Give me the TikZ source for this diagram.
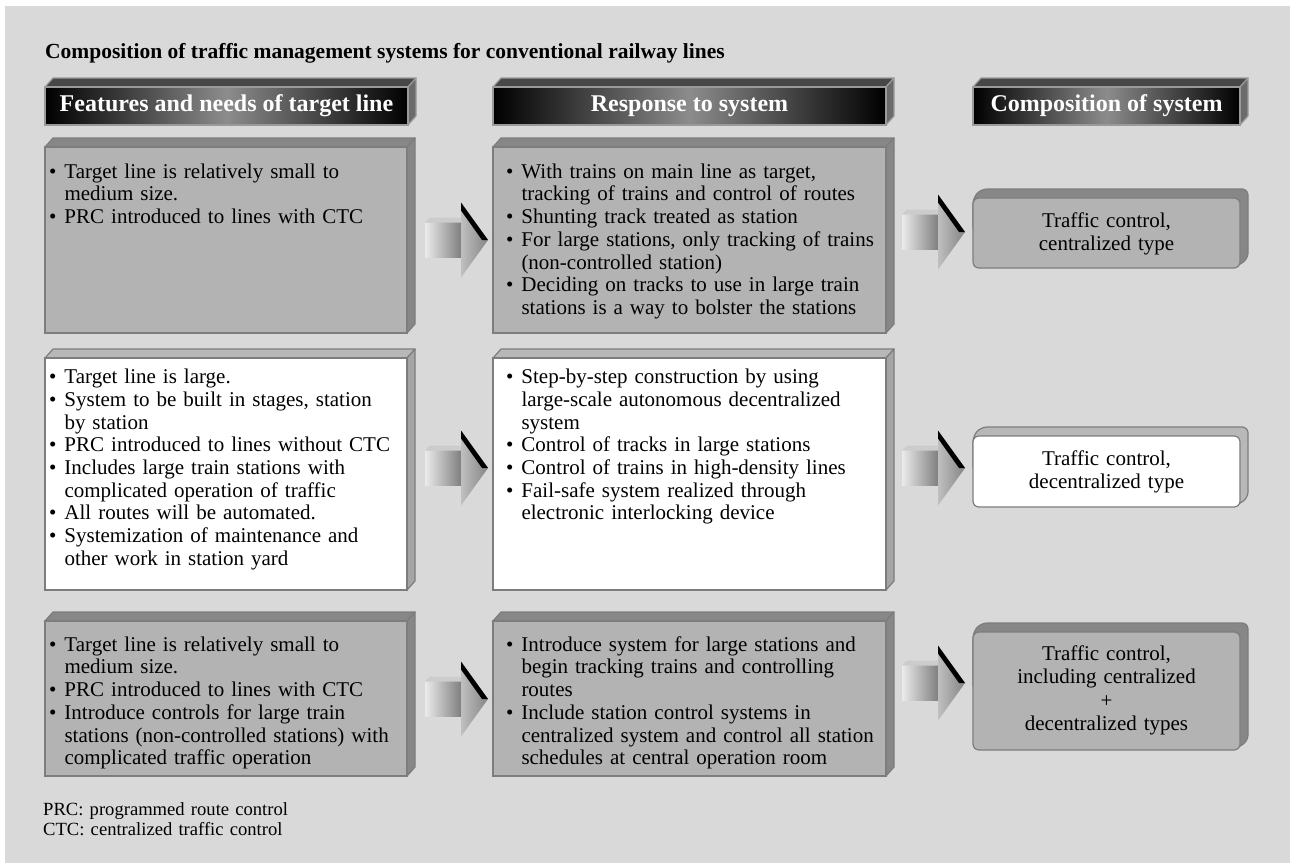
\documentclass[tikz,border=0pt]{standalone}
\usepackage{fontspec}
\setmainfont{Liberation Serif}
\usetikzlibrary{calc}
\pgfdeclarelayer{back}
\pgfdeclarelayer{mid}
\pgfsetlayers{back,mid,main}
\definecolor{bgc}{HTML}{D9D9D9}
\definecolor{faceg}{HTML}{B3B3B3}
\definecolor{bevg}{HTML}{878787}
\definecolor{edgeg}{HTML}{7D7D7D}
\definecolor{bevw}{HTML}{B8B8B8}
\definecolor{sidew}{HTML}{A5A5A5}
\definecolor{hdrmid}{HTML}{8C8C8C}
\definecolor{hdrtop}{HTML}{474747}
\definecolor{hdrside}{HTML}{6B6B6B}
\definecolor{hdredge}{HTML}{9A9A9A}
\newlength\bulw \setlength\bulw{15.5pt}
\newcommand\bul{\par\noindent\hangindent=\bulw\hangafter=1\makebox[\bulw][l]{\textbullet}\ignorespaces}
\newcommand\nl{\hfil\break}
\newcommand\st{\rule{0pt}{16pt}}
\newcommand\bev[4]{%
 \begin{pgfonlayer}{mid}
 \filldraw[fill=#2, draw=#4, line width=1.2, line join=round] (#1.north west) -- ++(8,-9) -- ([shift={(8,-9)}]#1.north east) -- (#1.north east) -- cycle;
 \filldraw[fill=#3, draw=#4, line width=1.2, line join=round] (#1.north east) -- ([shift={(8,-9)}]#1.north east) -- ([shift={(8,-9)}]#1.south east) -- (#1.south east) -- cycle;
 \end{pgfonlayer}}
\newcommand\rbev[3]{%
 \begin{pgfonlayer}{mid}
 \filldraw[fill=#2, draw=#3, line width=1.2, rounded corners=6] (#1.west) -- (#1.north west) -- ++(8,-9) -- ([shift={(8,-9)}]#1.north east) -- ([shift={(8,-9)}]#1.south east) -- ([xshift=-6pt]#1.south east) -- (#1.center) -- cycle;
 \end{pgfonlayer}}
\begin{document}
\begin{tikzpicture}[x=1pt,y=-1pt,
  hdr/.style={anchor=north west, minimum height=38, inner sep=0, outer sep=0,
    text=white, font=\bfseries\fontsize{24}{26}\selectfont,
    left color=black, right color=black, middle color=hdrmid, draw=hdredge, line width=1.5},
  gface/.style={anchor=north west, inner sep=0, outer sep=0, fill=faceg, draw=edgeg, line width=1.2},
  wface/.style={anchor=north west, inner sep=0, outer sep=0, fill=white, draw=edgeg, line width=1.2},
  rgface/.style={gface, rounded corners=6},
  rwface/.style={wface, rounded corners=6},
  txt/.style={anchor=north west, inner sep=0, outer sep=0, font=\fontsize{21}{22.7}\selectfont},
  rtxt/.style={anchor=north, inner sep=0, outer sep=0, text width=260pt, align=center, font=\fontsize{21}{23.5}\selectfont},
  blkarrow/.pic={
    \shade[left color=white!92!black, right color=black!50] (-63,-17.5) rectangle (-27,17.5);
    \fill[black!20] (-63,-17.5) -- (-58,-22.5) -- (-27,-22.5) -- (-27,-17.5) -- cycle;
    \shade[left color=black!25, right color=black!48] (-27,-37.5) -- (0,0) -- (-27,37.5) -- cycle;
    \fill[black] (-27,-37.5) -- (0,0) -- (-6,0) -- (-27,-29.5) -- cycle;
  }]
\useasboundingbox (0,0) rectangle (1290,863);
\begin{pgfonlayer}{back}
\fill[bgc] (5,6) rectangle (1290,863);
\end{pgfonlayer}

\node[anchor=base west, inner sep=0, font=\bfseries\fontsize{21.5}{24}\selectfont] (title) at (45,58)
  {Composition of traffic management systems for conventional railway lines};

% headers
\node[hdr, minimum width=363] (H1) at (45,87) {Features and needs of target line};
\node[hdr, minimum width=393] (H2) at (493,87) {Response to system};
\node[hdr, minimum width=267] (H3) at (973,87) {Composition of system};
\bev{H1}{hdrtop}{hdrside}{hdredge}
\bev{H2}{hdrtop}{hdrside}{hdredge}
\bev{H3}{hdrtop}{hdrside}{hdredge}

% row 1
\node[gface, minimum width=362, minimum height=186] (L1) at (45,147) {};
\node[gface, minimum width=393, minimum height=186] (M1) at (493,147) {};
\node[rgface, minimum width=267, minimum height=70] (R1) at (973,198) {};
\bev{L1}{bevg}{bevg}{edgeg}
\bev{M1}{bevg}{bevg}{edgeg}
\rbev{R1}{bevg}{edgeg}
% row 2
\node[wface, minimum width=362, minimum height=232] (L2) at (45,358) {};
\node[wface, minimum width=393, minimum height=232] (M2) at (493,358) {};
\node[rwface, minimum width=267, minimum height=71] (R2) at (973,436) {};
\bev{L2}{bevw}{sidew}{edgeg}
\bev{M2}{bevw}{sidew}{edgeg}
\rbev{R2}{bevw}{edgeg}
% row 3
\node[gface, minimum width=362, minimum height=155] (L3) at (45,621) {};
\node[gface, minimum width=393, minimum height=155] (M3) at (493,621) {};
\node[rgface, minimum width=267, minimum height=118] (R3) at (973,632) {};
\bev{L3}{bevg}{bevg}{edgeg}
\bev{M3}{bevg}{bevg}{edgeg}
\rbev{R3}{bevg}{edgeg}

% texts
\node[txt, text width=355pt] (tL1) at (49,155.5) {\bul\st Target line is relatively small to\nl medium size.\bul PRC introduced to lines with CTC\par};
\node[txt, text width=375pt] (tM1) at (506,155.5) {\bul\st With trains on main line as target,\nl tracking of trains and control of routes\bul Shunting track treated as station\bul For large stations, only tracking of trains\nl (non-controlled station)\bul Deciding on tracks to use in large train\nl stations is a way to bolster the stations\par};
\node[txt, text width=355pt] (tL2) at (49,361) {\bul\st Target line is large.\bul System to be built in stages, station\nl by station\bul PRC introduced to lines without CTC\bul Includes large train stations with\nl complicated operation of traffic\bul All routes will be automated.\bul Systemization of maintenance and\nl other work in station yard\par};
\node[txt, text width=375pt] (tM2) at (506,361) {\bul\st Step-by-step construction by using\nl large-scale autonomous decentralized\nl system\bul Control of tracks in large stations\bul Control of trains in high-density lines\bul Fail-safe system realized through\nl electronic interlocking device\par};
\node[txt, text width=355pt] (tL3) at (49,628.5) {\bul\st Target line is relatively small to\nl medium size.\bul PRC introduced to lines with CTC\bul Introduce controls for large train\nl stations (non-controlled stations) with\nl complicated traffic operation\par};
\node[txt, text width=375pt] (tM3) at (506,628.5) {\bul\st Introduce system for large stations and\nl begin tracking trains and controlling\nl routes\bul Include station control systems in\nl centralized system and control all station\nl schedules at central operation room\par};

\node[rtxt] (tR1) at (1106.5,211) {\st Traffic control,\\centralized type};
\node[rtxt] (tR2) at (1106.5,449) {\st Traffic control,\\decentralized type};
\node[rtxt] (tR3) at (1106.5,644) {\st Traffic control,\\including centralized\\+\\decentralized types};

% arrows
\pic at (488,240) {blkarrow};
\pic at (965,232) {blkarrow};
\pic at (488,468) {blkarrow};
\pic at (965,468) {blkarrow};
\pic at (488,699) {blkarrow};
\pic at (965,683) {blkarrow};

% footnotes
\node[anchor=north west, inner sep=0, text width=400pt, font=\fontsize{18.6}{20}\selectfont] (fn) at (43,801)
  {\rule{0pt}{14pt}PRC: programmed route control\\CTC: centralized traffic control};
\end{tikzpicture}
\end{document}
